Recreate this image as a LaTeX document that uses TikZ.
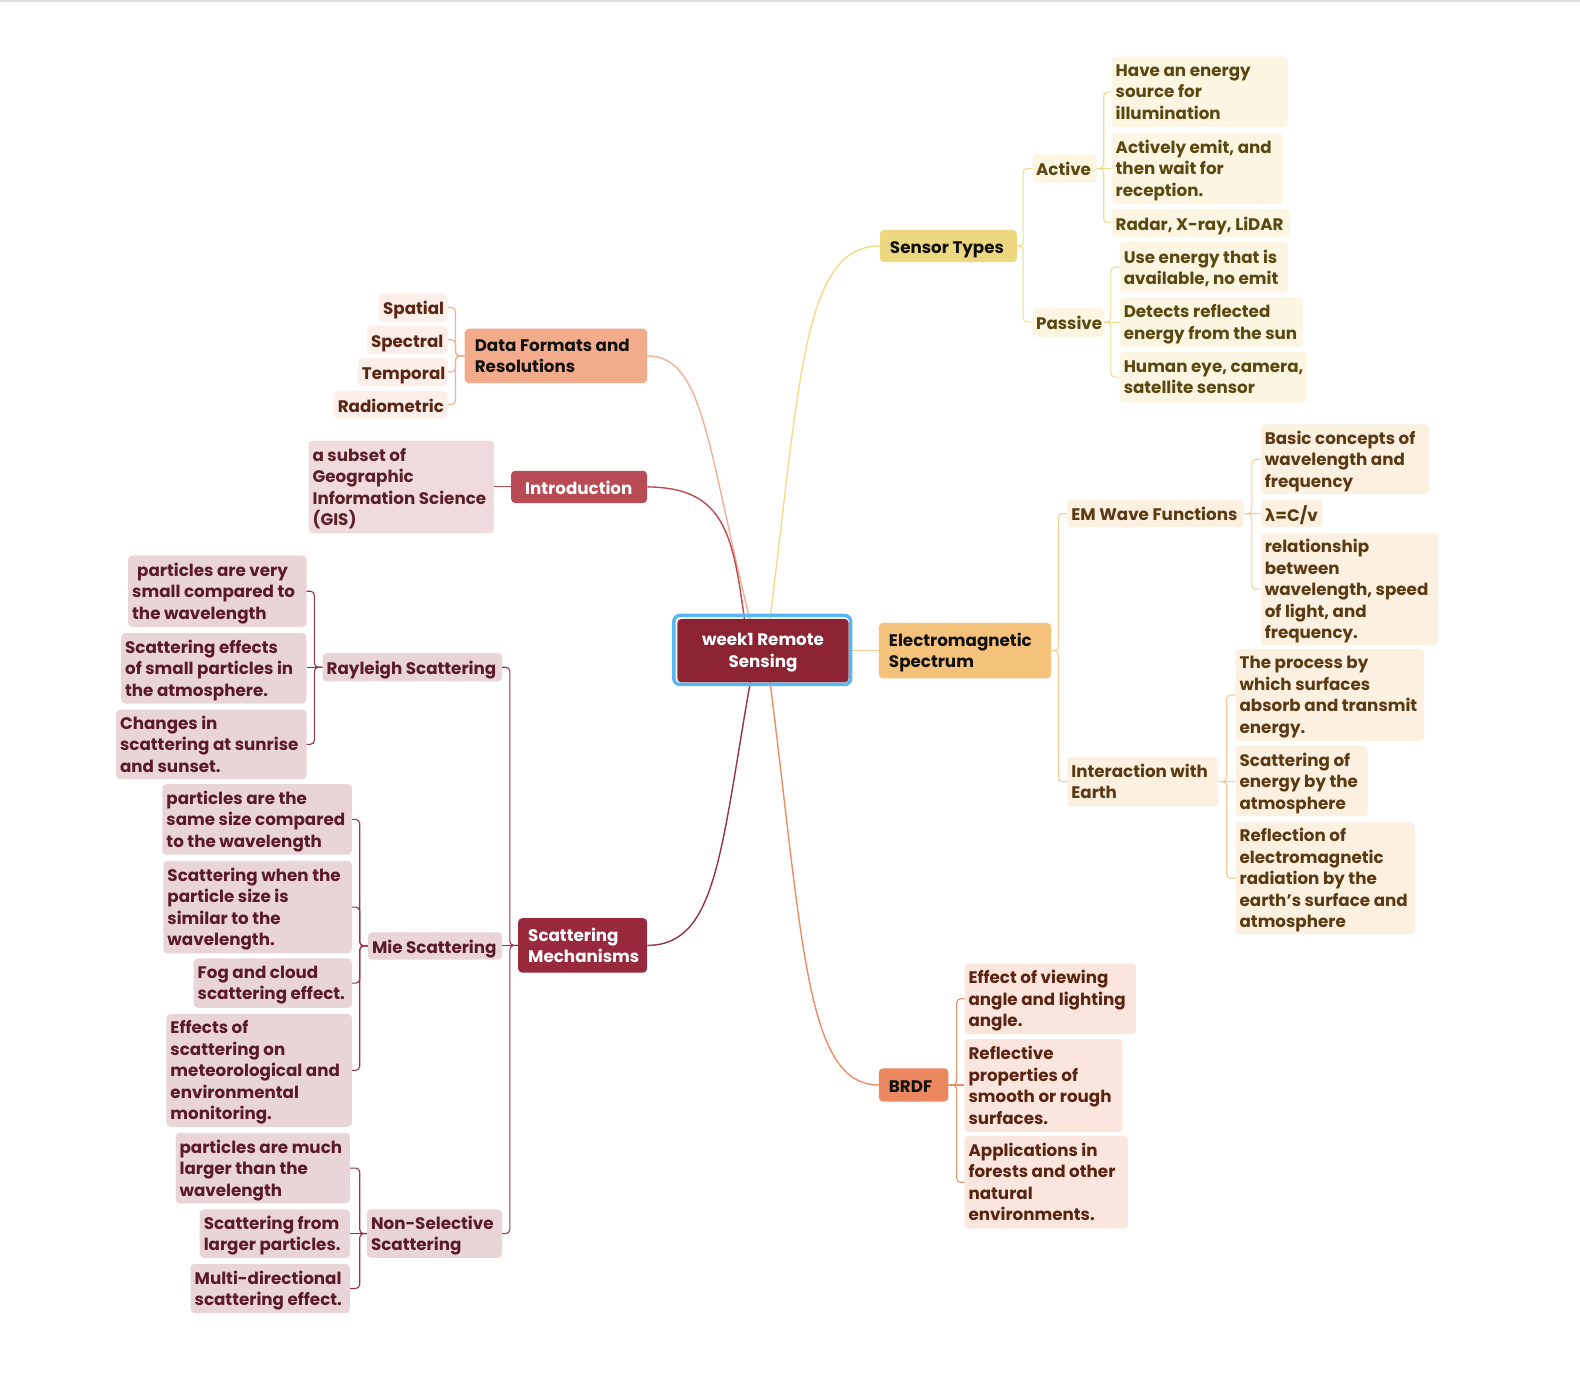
\documentclass[tikz,border=0pt]{standalone}
\usepackage{fontspec}
\setmainfont{Poppins}
\newfontfamily\symfont{DejaVu Sans}

% palette
\definecolor{rootF}{HTML}{8B2332}
\definecolor{ring}{HTML}{58B6F2}
\definecolor{seMF}{HTML}{EDD880}\definecolor{seL}{HTML}{EEDC8C}\definecolor{seCF}{HTML}{FBF5E2}\definecolor{seT}{HTML}{5A4811}
\definecolor{emMF}{HTML}{F5C27B}\definecolor{emL}{HTML}{F6CC92}\definecolor{emCF}{HTML}{FCF0E0}\definecolor{emT}{HTML}{5B3912}
\definecolor{brMF}{HTML}{EC8860}\definecolor{brL}{HTML}{EC8F68}\definecolor{brCF}{HTML}{FBE6DD}\definecolor{brT}{HTML}{5B2312}
\definecolor{daMF}{HTML}{F2AB8B}\definecolor{daL}{HTML}{F2B096}\definecolor{daCF}{HTML}{FCEEE8}\definecolor{daT}{HTML}{5B2513}
\definecolor{itMF}{HTML}{B84B53}\definecolor{itL}{HTML}{B84B53}\definecolor{itCF}{HTML}{EFDADD}\definecolor{itT}{HTML}{5A1F27}
\definecolor{scMF}{HTML}{992A3E}\definecolor{scL}{HTML}{99324A}\definecolor{scCF}{HTML}{E9D4D8}\definecolor{scT}{HTML}{5A1A2A}
\definecolor{mainT}{HTML}{111111}

\newcommand\fsz{\fontsize{16.6}{21.3}\selectfont\bfseries}

\pgfdeclarelayer{bg}
\pgfsetlayers{bg,main}

\tikzset{
  box/.style={rounded corners=4pt, inner sep=0pt, draw=none},
  txt/.style={inner sep=0pt, align=left, font=\fsz, yshift=-3pt,
    execute at begin node=\strut, execute at end node=\strut},
  seM/.style={fill=seMF}, seM text/.style={text=mainT},
  seC/.style={fill=seCF}, seC text/.style={text=seT},
  emM/.style={fill=emMF}, emM text/.style={text=mainT},
  emC/.style={fill=emCF}, emC text/.style={text=emT},
  brM/.style={fill=brMF}, brM text/.style={text=mainT},
  brC/.style={fill=brCF}, brC text/.style={text=brT},
  daM/.style={fill=daMF}, daM text/.style={text=mainT},
  daC/.style={fill=daCF}, daC text/.style={text=daT},
  itM/.style={fill=itMF}, itM text/.style={text=white},
  itC/.style={fill=itCF}, itC text/.style={text=itT},
  scM/.style={fill=scMF}, scM text/.style={text=white},
  scC/.style={fill=scCF}, scC text/.style={text=scT},
  trunk/.style={line width=1.4pt},
  brk/.style={line width=1.1pt, rounded corners=4pt},
}

% \bx{name}{x1}{y1}{x2}{y2}{style}{padding}{text}
\newcommand\bx[8]{%
  \node[box,#6,minimum width={(#4-#2)*1pt},minimum height={(#5-#3)*1pt},anchor=north west] (#1) at (#2,#3) {};
  \node[txt,#6 text,anchor=west] (#1-t) at ([xshift=#7]#1.west) {#8};}

\begin{document}
\begin{tikzpicture}[x=1pt,y=-1pt]
\useasboundingbox (0,0) rectangle (1568,1366);
\fill[black!12] (0,0) rectangle (1568,1.6);

% central topic
\node[box,fill=rootF,minimum width=170pt,minimum height=63pt,anchor=north west] (root) at (672,614) {};
\draw[ring,line width=3.5pt,rounded corners=6pt] (668.75,610.75) rectangle (844.25,679.25);
\node[txt,text=white,align=center,anchor=center] (root-t) at (root.center) {week1 Remote\\Sensing};

% main topics
\bx{sensor}{873}{228}{1009}{260}{seM}{10}{Sensor Types}
\bx{em}{872}{618}{1043}{673}{emM}{10}{Electromagnetic\\Spectrum}
\bx{brdf}{872}{1060}{941}{1093}{brM}{10}{BRDF}
\bx{data}{461}{326}{642}{380}{daM}{10}{Data Formats and\\Resolutions}
\bx{intro}{507}{467}{642}{499}{itM}{14}{Introduction}
\bx{scat}{514}{911}{642}{965}{scM}{10}{Scattering\\Mechanisms}

% sensor types
\bx{active}{1025}{153}{1088}{181}{seC}{3}{Active}
\bx{passive}{1025}{305}{1095}{334}{seC}{3}{Passive}
\bx{a1}{1103}{56}{1278}{126}{seC}{4}{Have an energy\\source for\\illumination}
\bx{a2}{1103}{132}{1273}{202}{seC}{4}{Actively emit, and\\then wait for\\reception.}
\bx{a3}{1103}{207}{1280}{235}{seC}{4}{Radar, X-ray, LiDAR}
\bx{p1}{1111}{240}{1278}{290}{seC}{4}{Use energy that is\\available, no emit}
\bx{p2}{1111}{295}{1293}{344}{seC}{4}{Detects reflected\\energy from the sun}
\bx{p3}{1111}{349}{1297}{399}{seC}{4}{Human eye, camera,\\satellite sensor}

% data formats
\bx{spatial}{376}{291}{444}{319}{daC}{4}{Spatial}
\bx{spectral}{364}{323}{444}{351}{daC}{4}{Spectral}
\bx{temporal}{355}{355}{444}{383}{daC}{4}{Temporal}
\bx{radiom}{331}{388}{444}{415}{daC}{4}{Radiometric}

% introduction
\bx{gis}{306}{437}{490}{529}{itC}{4}{a subset of\\Geographic\\Information Science\\(GIS)}

% electromagnetic spectrum
\bx{emw}{1059}{496}{1234}{523}{emC}{4}{EM Wave Functions}
\bx{inter}{1059}{751}{1209}{800}{emC}{4}{Interaction with\\Earth}
\bx{basic}{1251}{421}{1418}{490}{emC}{4}{Basic concepts of\\wavelength and\\frequency}
\bx{lam}{1251}{496}{1312}{523}{emC}{4}{{\symfont\bfseries λ}=C/v}
\bx{rel}{1251}{529}{1427}{640}{emC}{4}{relationship\\between\\wavelength, speed\\of light, and\\frequency.}
\bx{proc}{1226}{644}{1413}{735}{emC}{4}{The process by\\which surfaces\\absorb and transmit\\energy.}
\bx{scen}{1226}{740}{1357}{810}{emC}{4}{Scattering of\\energy by the\\atmosphere}
\bx{refl}{1226}{816}{1404}{927}{emC}{4}{Reflection of\\electromagnetic\\radiation by the\\earth's surface and\\atmosphere}

% brdf
\bx{b1}{957}{956}{1127}{1026}{brC}{4}{Effect of viewing\\angle and lighting\\angle.}
\bx{b2}{957}{1031}{1114}{1123}{brC}{4}{Reflective\\properties of\\smooth or rough\\surfaces.}
\bx{b3}{957}{1127}{1119}{1219}{brC}{4}{Applications in\\forests and other\\natural\\environments.}

% scattering mechanisms
\bx{ray}{320}{648}{498}{676}{scC}{4}{Rayleigh Scattering}
\bx{r1}{127}{551}{304}{622}{scC}{4}{\hspace{5pt}particles are very\\small compared to\\the wavelength}
\bx{r2}{120}{628}{304}{698}{scC}{4}{Scattering effects\\of small particles in\\the atmosphere.}
\bx{r3}{115}{704}{304}{773}{scC}{4}{Changes in\\scattering at sunrise\\and sunset.}
\bx{mie}{365}{925}{498}{952}{scC}{4}{Mie Scattering}
\bx{m1}{161}{778}{349}{848}{scC}{4}{particles are the\\same size compared\\to the wavelength}
\bx{m2}{162}{854}{349}{946}{scC}{4}{Scattering when the\\particle size is\\similar to the\\wavelength.}
\bx{m3}{192}{951}{349}{1000}{scC}{4}{Fog and cloud\\scattering effect.}
\bx{m4}{165}{1006}{349}{1118}{scC}{4}{Effects of\\scattering on\\meteorological and\\environmental\\monitoring.}
\bx{nons}{364}{1200}{498}{1248}{scC}{4}{Non-Selective\\Scattering}
\bx{n1}{174}{1124}{347}{1194}{scC}{4}{particles are much\\larger than the\\wavelength}
\bx{n2}{198}{1200}{347}{1248}{scC}{4}{Scattering from\\larger particles.}
\bx{n3}{189}{1254}{347}{1303}{scC}{4}{Multi-directional\\scattering effect.}

\begin{pgfonlayer}{bg}
% trunks from the central topic
\draw[trunk,seL] ([xshift=3]root.center) .. controls (794,385) and (794,244) .. (sensor.west);
\draw[trunk,daL] ([xshift=-5]root.center) .. controls (702,456) and (702,353) .. (data.east);
\draw[trunk,itL] ([xshift=-14]root.center) .. controls (728,541) and (728,484) .. (intro.east);
\draw[trunk,scL] ([xshift=-7]root.center) .. controls (715,836) and (715,938) .. (scat.east);
\draw[trunk,brL] ([xshift=3]root.center) .. controls (797,926) and (797,1077) .. (brdf.west);
\draw[trunk,emL] (root.east) -- (em.west);
\end{pgfonlayer}

% right-hand brackets (outer children bend, middle child runs straight)
\foreach \c in {active,passive} \draw[brk,seL] (sensor.east) -- ++(6,0) |- (\c.west);
\foreach \c in {a1,a3} \draw[brk,seL] (active.east) -- ++(7,0) |- (\c.west);
\draw[brk,seL] (active.east) -- (a2.west |- active.east);
\foreach \c in {p1,p3} \draw[brk,seL] (passive.east) -- ++(7,0) |- (\c.west);
\draw[brk,seL] (passive.east) -- (p2.west |- passive.east);
\foreach \c in {emw,inter} \draw[brk,emL] (em.east) -- ++(7,0) |- (\c.west);
\foreach \c in {basic,rel} \draw[brk,emL] (emw.east) -- ++(8,0) |- (\c.west);
\draw[brk,emL] (emw.east) -- (lam.west |- emw.east);
\foreach \c in {proc,refl} \draw[brk,emL] (inter.east) -- ++(8,0) |- (\c.west);
\draw[brk,emL] (inter.east) -- (scen.west |- inter.east);
\foreach \c in {b1,b3} \draw[brk,brL] (brdf.east) -- ++(8,0) |- (\c.west);
\draw[brk,brL] (brdf.east) -- (b2.west |- brdf.east);

% left-hand brackets
\foreach \c in {spatial,spectral,temporal,radiom} \draw[brk,daL] (data.west) -- ++(-9,0) |- (\c.east);
\draw[brk,itL] (intro.west) -- (gis.east);
\foreach \c in {ray,nons} \draw[brk,scL] (scat.west) -- ++(-8,0) |- (\c.east);
\draw[brk,scL] (scat.west) -- (mie.east |- scat.west);
\foreach \c in {r1,r3} \draw[brk,scL] (ray.west) -- ++(-8,0) |- (\c.east);
\draw[brk,scL] (ray.west) -- (r2.east |- ray.west);
\foreach \c in {m1,m2,m3,m4} \draw[brk,scL] (mie.west) -- ++(-8,0) |- (\c.east);
\foreach \c in {n1,n3} \draw[brk,scL] (nons.west) -- ++(-7,0) |- (\c.east);
\draw[brk,scL] (nons.west) -- (n2.east |- nons.west);
\end{tikzpicture}
\end{document}
